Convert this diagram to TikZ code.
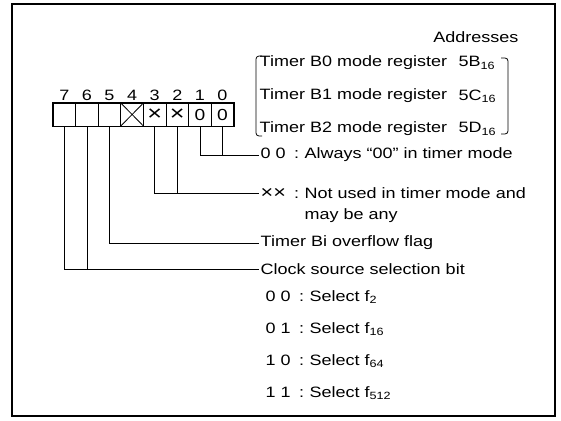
\documentclass[tikz,border=0pt]{standalone}
\usepackage{fontspec}
\setmainfont[FakeStretch=1.2]{Liberation Sans}
\usetikzlibrary{positioning, calc}

\newcommand{\bitkey}[1]{\makebox[31pt][l]{#1}\makebox[10pt][c]{:}\hspace{3pt}}

\begin{document}
\begin{tikzpicture}[
  x=1pt, y=1pt,
  cell/.style={draw, line width=0.9pt, minimum width=22.6pt,
               minimum height=23pt, inner sep=0pt,
               font=\fontsize{16}{16}\selectfont},
  bitno/.style={font=\fontsize{15}{15}\selectfont, inner sep=1pt},
  desc/.style={font=\fontsize{15}{18}\selectfont, inner sep=1.5pt,
               anchor=west},
  wire/.style={line width=0.8pt},
]
  \useasboundingbox (0,0) rectangle (561,-420);
  \draw[line width=2.5pt] (12,-4) rectangle (555,-416);

  % Register bits
  \foreach \b/\t [count=\i from 0] in {7/{},6/{},5/{},4/{},
      3/{\fontsize{21}{21}\selectfont ×},2/{\fontsize{21}{21}\selectfont ×},
      1/0,0/0} {
    \node[cell] (b\b) at (64.3+22.6*\i, -114.5) {\t};
    \node[bitno, above=1pt of b\b] (n\b) {\b};
  }
  \draw[line width=1.8pt] (b7.north west) rectangle (b0.south east);
  \draw[line width=0.8pt] (b4.north west) -- (b4.south east)
                          (b4.north east) -- (b4.south west);

  % Register names and addresses
  \node[desc, anchor=east] (addr) at (520,-37) {Addresses};
  \node[desc] (tb0) at (258,-63) {Timer B0 mode register};
  \node[desc] (tb1) at (258,-96) {Timer B1 mode register};
  \node[desc] (tb2) at (258,-129) {Timer B2 mode register};
  \node[desc] (ab0) at (457,-63) {5B\textsubscript{16}};
  \node[desc] (ab1) at (457,-96) {5C\textsubscript{16}};
  \node[desc] (ab2) at (457,-129) {5D\textsubscript{16}};
  \draw[wire, rounded corners=3pt] (262,-56) -- (256,-56) -- (256,-136)
                                   -- (262,-136);
  \draw[wire, rounded corners=3pt] (501,-58) -- (508,-58) -- (508,-134)
                                   -- (501,-134);

  % Bit descriptions
  \node[desc] (always) at (259,-155) {\bitkey{0 0}Always “00” in timer mode};
  \node[desc] (unused) at (259,-193)
    {\bitkey{{\fontsize{18}{18}\selectfont ××}}Not used in timer mode and};
  \node[desc] (unused2) at (303,-216) {may be any};
  \node[desc] (ovf) at (259,-243) {Timer Bi overflow flag};
  \node[desc] (clk) at (259,-269) {Clock source selection bit};
  \node[desc] (sel0) at (264,-297) {\bitkey{0 0}Select f\textsubscript{2}};
  \node[desc] (sel1) at (264,-329) {\bitkey{0 1}Select f\textsubscript{16}};
  \node[desc] (sel2) at (264,-361) {\bitkey{1 0}Select f\textsubscript{64}};
  \node[desc] (sel3) at (264,-393) {\bitkey{1 1}Select f\textsubscript{512}};

  \draw[wire] (b1.south) |- (always.west);
  \draw[wire] (b0.south) -- (b0.south |- always.west);
  \draw[wire] (b3.south) |- (unused.west);
  \draw[wire] (b2.south) -- (b2.south |- unused.west);
  \draw[wire] (b5.south) |- (ovf.west);
  \draw[wire] (b7.south) |- (clk.west);
  \draw[wire] (b6.south) -- (b6.south |- clk.west);
\end{tikzpicture}
\end{document}
